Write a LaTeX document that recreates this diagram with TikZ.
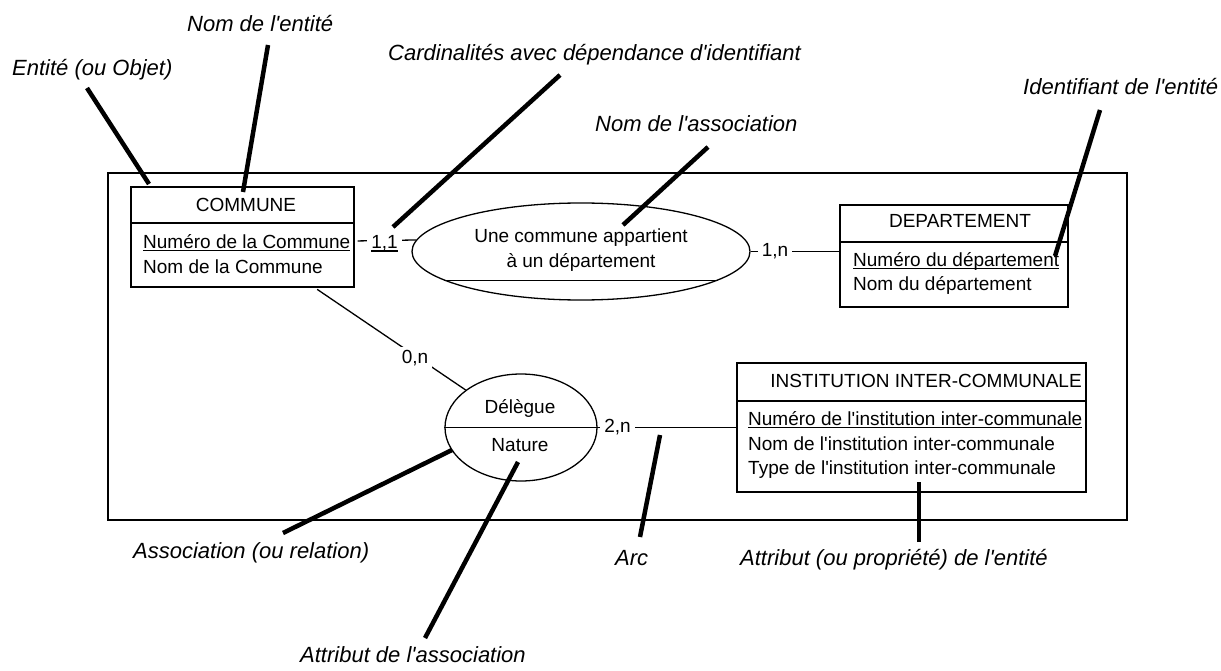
\documentclass[tikz,border=0pt]{standalone}
\usepackage{fontspec}
\setmainfont{Liberation Sans}
\usetikzlibrary{shapes.geometric}
\newcommand{\myul}[1]{\setbox0\hbox{#1}\rlap{\rule[-2.8pt]{\wd0}{1.3pt}}\box0}
\newcommand{\q}{\textquotesingle}
\begin{document}
\begin{tikzpicture}[x=1pt,y=-1pt,
  ln/.style={line width=1.3pt},
  box/.style={draw, line width=1.3pt, inner sep=0pt},
  txt/.style={font=\fontsize{19}{22}\selectfont, inner sep=0pt},
  lw/.style={txt, anchor=base west},
  lc/.style={txt, anchor=base},
  card/.style={txt, anchor=base, fill=white, inner xsep=4pt, inner ysep=3pt},
  call/.style={font=\fontsize{22}{26}\selectfont\itshape, inner sep=0pt, anchor=base west},
  callout/.style={line width=4.5pt}]
\useasboundingbox (0,0) rectangle (1221,671);

% frame
\node[box, minimum width=1019pt, minimum height=347pt] (frame) at (617.5,346.5) {};

% entity COMMUNE
\node[box, minimum width=223pt, minimum height=100pt] (commune) at (242.5,237) {};
\draw[ln] (commune.west |- 0,223) -- (commune.east |- 0,223);
\node[lc] (communeT) at (246,212) {COMMUNE};
\node[lw] (communeA1) at (143,248) {\myul{Numéro de la Commune}};
\node[lw] (communeA2) at (143,273) {Nom de la Commune};

% entity DEPARTEMENT
\node[box, minimum width=228pt, minimum height=102pt] (dept) at (954,256) {};
\draw[ln] (dept.west |- 0,242) -- (dept.east |- 0,242);
\node[lc] (deptT) at (960,228) {DEPARTEMENT};
\node[lw] (deptA1) at (853,266) {\myul{Numéro du département}};
\node[lw] (deptA2) at (853,290) {Nom du département};

% entity INSTITUTION
\node[box, minimum width=349pt, minimum height=129pt] (inst) at (911.5,427.5) {};
\draw[ln] (inst.west |- 0,401) -- (inst.east |- 0,401);
\node[lc] (instT) at (926,387) {INSTITUTION INTER-COMMUNALE};
\node[lw] (instA1) at (748,425) {\myul{Numéro de l\q institution inter-communale}};
\node[lw] (instA2) at (748,450) {Nom de l\q institution inter-communale};
\node[lw] (instA3) at (748,474) {Type de l\q institution inter-communale};

% association 1
\node[ellipse, box, minimum width=338pt, minimum height=97pt] (assoc) at (581,251.5) {};
\draw[ln] (assoc.192.3) -- (assoc.-12.3);
\node[lc] (assocT1) at (581,243) {Une commune appartient};
\node[lc] (assocT2) at (581,267) {à un département};

% association Délègue
\node[ellipse, box, minimum width=152pt, minimum height=107pt] (deleg) at (521,427.5) {};
\draw[ln] (deleg.west) -- (deleg.east);
\node[lc] (delegT) at (520,413) {Délègue};
\node[lc] (delegA) at (520,451) {Nature};

% connectors
\draw[ln, shorten <=3pt] ([yshift=-4pt]commune.east) -- (assoc.176.4);
\draw[ln] (assoc.east) -- (dept.west |- assoc.east);
\draw[ln, shorten <=3pt] ([xshift=-40pt]commune.south east) -- (deleg);
\draw[ln] (deleg.east) -- (inst.west);

% cardinalities
\node[card] (c11) at (384.5,249) {\myul{1,1}};
\node[card] (c1n) at (775,257) {1,n};
\node[card] (c0n) at (415,363) {0,n};
\node[card] (c2n) at (617.5,432) {2,n};

% callouts
\node[call] (k1) at (12,76) {Entité (ou Objet)};
\node[call] (k2) at (187,32) {Nom de l\q entité};
\node[call] (k3) at (388,61) {Cardinalités avec dépendance d\q identifiant};
\node[call] (k4) at (595,132) {Nom de l\q association};
\node[call] (k5) at (1023,95) {Identifiant de l\q entité};
\node[call] (k6) at (133,558) {Association (ou relation)};
\node[call] (k7) at (300,662) {Attribut de l\q association};
\node[call] (k8) at (615,565) {Arc};
\node[call] (k9) at (740,565) {Attribut (ou propriété) de l\q entité};

\coordinate (p1a) at (87,88);   \coordinate (p1b) at (149,184);
\coordinate (p2a) at (268,45);  \coordinate (p2b) at (243,192);
\coordinate (p3a) at (560,75);  \coordinate (p3b) at (393,227);
\coordinate (p4a) at (708,147); \coordinate (p4b) at (623,225);
\coordinate (p5a) at (1100,110);\coordinate (p5b) at (1055,256);
\coordinate (p6a) at (283,533); \coordinate (p6b) at (452,450);
\coordinate (p7a) at (425,638); \coordinate (p7b) at (518,462);
\coordinate (p8a) at (640,537); \coordinate (p8b) at (660,435);
\coordinate (p9a) at (919,542); \coordinate (p9b) at (919,482);
\foreach \i in {1,...,9} {\draw[callout] (p\i a) -- (p\i b);}
\end{tikzpicture}
\end{document}
